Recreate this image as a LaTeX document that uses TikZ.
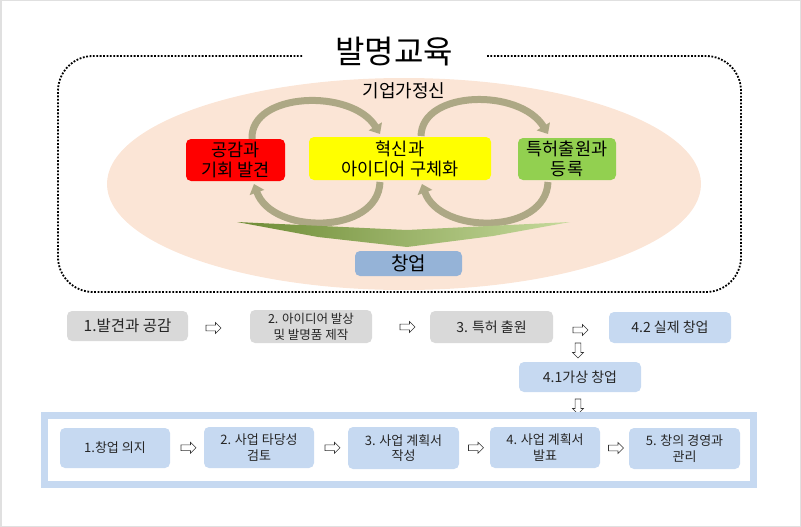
\documentclass[tikz,border=0pt]{standalone}
\usepackage{fontspec}
\setmainfont{Noto Sans CJK KR}
\usetikzlibrary{shapes.arrows,arrows.meta,calc}
\definecolor{peach}{HTML}{FBE5D6}
\definecolor{boxred}{HTML}{FF0000}
\definecolor{boxyellow}{HTML}{FFFF00}
\definecolor{boxgreen}{HTML}{92D050}
\definecolor{boxblue}{HTML}{95B3D7}
\definecolor{lightblue}{HTML}{C6D9F1}
\definecolor{lightgrey}{HTML}{D9D9D9}
\definecolor{olive}{HTML}{ADA885}
\definecolor{greenA}{HTML}{6E8B35}
\definecolor{greenB}{HTML}{C6DA9C}
\tikzset{
  topbox/.style={rounded corners=5pt, inner sep=0pt, align=center, font=\fontsize{17.5}{20}\selectfont, text=black},
  flowbox/.style={rounded corners=5pt, inner sep=0pt, align=center, font=\fontsize{13}{15.5}\selectfont, text=black!85},
  rowone/.style={flowbox, font=\fontsize{14}{16.5}\selectfont},
  smallflow/.style={flowbox, font=\fontsize{12.5}{16}\selectfont},
  hollow/.style={single arrow, draw=black!80, line width=0.6pt, fill=white, minimum height=15pt, minimum width=11pt, single arrow head extend=2.5pt, inner sep=2.5pt},
  curvearrow/.style={draw=olive, line width=7pt, -{Triangle[width=15pt,length=9pt]}}
}
\begin{document}
\begin{tikzpicture}[x=1pt,y=-1pt]
\useasboundingbox (0,0) rectangle (801,527);
\draw[black!12, line width=1.5pt] (0.75,0.75) rectangle (800.25,526.25);
% ellipse
\fill[peach] (404,184) ellipse [x radius=297, y radius=106];
% dotted frame
\draw[line width=1.8pt, dash pattern=on 1.8pt off 1.6pt, rounded corners=35pt] (487,56) -- (741,56) -- (741,292) -- (58,292) -- (58,56) -- (303,56);
\node (title) at (394,52) {\fontsize{32}{34}\selectfont 발명교육};
\node (spirit) at (404,91) {\fontsize{18}{20}\selectfont 기업가정신};
% boxes
\node[topbox, fill=boxred, minimum width=99pt, minimum height=42pt] (red) at (235.5,160) {공감과\\기회 발견};
\node[topbox, fill=boxyellow, minimum width=182pt, minimum height=43pt] (yellow) at (400,158.5) {혁신과\\아이디어 구체화};
\node[topbox, fill=boxgreen, minimum width=98pt, minimum height=42pt] (green) at (567,159) {특허출원과\\등록};
\node[topbox, fill=boxblue, minimum width=107pt, minimum height=25pt, font=\fontsize{19}{21}\selectfont] (startup) at (408.5,263.5) {창업};
% curved arrows
\coordinate (a1s) at (252,139);
\coordinate (a1e) at (380,134);
\coordinate (a2s) at (421,136);
\coordinate (a2e) at (548,134);
\coordinate (a3s) at (380,182);
\coordinate (a3e) at (254,184);
\coordinate (a4s) at (548,182);
\coordinate (a4e) at (422,184);
\draw[curvearrow] (a1s) .. controls (250,92) and (352,88) .. (a1e);
\draw[curvearrow] (a2s) .. controls (422,90) and (520,88) .. (a2e);
\draw[curvearrow] (a3s) .. controls (378,235) and (272,235) .. (a3e);
\draw[curvearrow] (a4s) .. controls (546,235) and (440,235) .. (a4e);
% green chevron arrow
\shade[left color=greenA, right color=greenB] (237,222) -- (407,230) -- (570,222) -- (493,236) -- (407,247) -- (318,237) -- cycle;
% flow row 1
\node[rowone, fill=lightgrey, minimum width=121pt, minimum height=30pt, font=\fontsize{15.5}{17}\selectfont] (n1) at (127.5,326) {1.발견과 공감};
\node[smallflow, fill=lightgrey, minimum width=122pt, minimum height=33pt] (n2) at (311,326.5) {2. 아이디어 발상\\및 발명품 제작};
\node[rowone, fill=lightgrey, minimum width=123pt, minimum height=32pt] (n3) at (491.5,327) {3. 특허 출원};
\node[rowone, fill=lightblue, minimum width=122pt, minimum height=31pt] (n42) at (670,327.5) {4.2 실제 창업};
\node[rowone, fill=lightblue, minimum width=122pt, minimum height=30pt] (n41) at (580,377) {4.1가상 창업};
\node[hollow] (ar1) at (212,328) {};
\node[hollow] (ar2) at (406,327) {};
\node[hollow] (ar3) at (579,330) {};
\node[hollow, rotate=-90] (ar4) at (578,349) {};
\node[hollow, rotate=-90] (ar5) at (578,405) {};
% frame
\draw[lightblue, line width=7pt] (44.5,415.5) rectangle (753.5,484.5);
% flow row 2
\node[flowbox, fill=lightblue, minimum width=110pt, minimum height=40pt] (b1) at (115,448) {1.창업 의지};
\node[flowbox, fill=lightblue, minimum width=110pt, minimum height=41pt] (b2) at (259,447.5) {2. 사업 타당성\\검토};
\node[flowbox, fill=lightblue, minimum width=111pt, minimum height=42pt] (b3) at (403.5,448) {3. 사업 계획서\\작성};
\node[flowbox, fill=lightblue, minimum width=110pt, minimum height=41pt] (b4) at (545,447.5) {4. 사업 계획서\\발표};
\node[flowbox, fill=lightblue, minimum width=111pt, minimum height=41pt] (b5) at (684.5,448.5) {5. 창의 경영과\\관리};
\node[hollow] (c1) at ($(b1.east)!0.5!(b2.west)$) {};
\node[hollow] (c2) at ($(b2.east)!0.5!(b3.west)$) {};
\node[hollow] (c3) at ($(b3.east)!0.5!(b4.west)$) {};
\node[hollow] (c4) at ($(b4.east)!0.5!(b5.west)$) {};
\end{tikzpicture}
\end{document}
